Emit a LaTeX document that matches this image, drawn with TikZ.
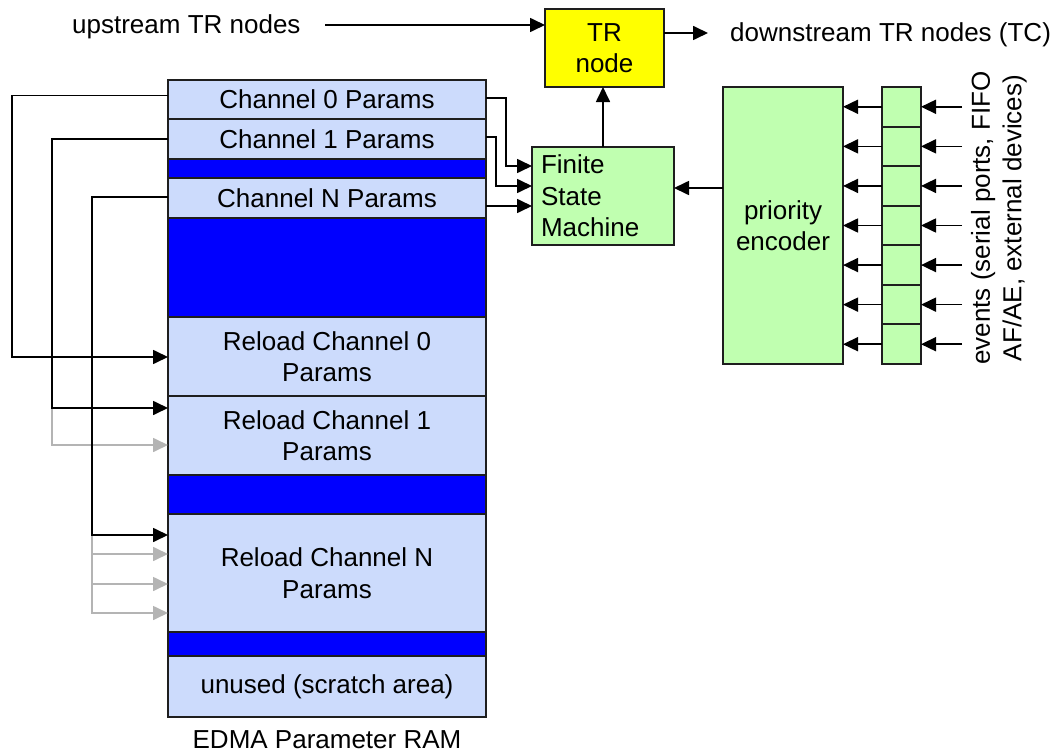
\documentclass[tikz,border=0pt]{standalone}
\usepackage{fontspec}
\setmainfont{Liberation Sans}
\usetikzlibrary{arrows.meta,calc}
\definecolor{memblue}{RGB}{204,219,252}
\definecolor{gapblue}{RGB}{0,0,255}
\definecolor{lgreen}{RGB}{192,255,176}
\definecolor{yel}{RGB}{255,255,0}
\definecolor{edge}{RGB}{30,30,30}
\definecolor{garrow}{RGB}{180,180,180}
\begin{document}
\begin{tikzpicture}[x=1pt,y=-1pt,
  txt/.style={font=\fontsize{26}{31.5}\selectfont, inner sep=0pt},
  mem/.style={txt, draw=edge, fill=memblue, line width=1.9pt, minimum width=318pt, align=center, outer sep=0pt},
  gap/.style={draw=edge, fill=gapblue, line width=1.9pt, minimum width=318pt, inner sep=0pt, outer sep=0pt},
  box/.style={txt, draw=edge, line width=1.9pt, align=center, outer sep=0pt},
  arr/.style={line width=1.7pt, draw=black, -{Triangle[length=15pt,width=14pt]}},
  garr/.style={line width=1.7pt, draw=garrow, -{Triangle[length=15pt,width=14pt]}}
]
\useasboundingbox (0,0) rectangle (1058,752);

% memory column
\node[mem, minimum height=39pt] (ch0) at (327,99.5) {Channel 0 Params};
\node[mem, minimum height=40pt] (ch1) at (327,139) {Channel 1 Params};
\node[gap, minimum height=19pt] (g1) at (327,168.5) {};
\node[mem, minimum height=40pt] (chN) at (327,198) {Channel N Params};
\node[gap, minimum height=99pt] (g2) at (327,267.5) {};
\node[mem, minimum height=79pt] (r0) at (327,356.5) {Reload Channel 0\\Params};
\node[mem, minimum height=79pt] (r1) at (327,435.5) {Reload Channel 1\\Params};
\node[gap, minimum height=39pt] (g3) at (327,494.5) {};
\node[mem, minimum height=118pt] (rN) at (327,573) {Reload Channel N\\Params};
\node[gap, minimum height=24pt] (g4) at (327,644) {};
\node[mem, minimum height=61pt] (un) at (327,686.5) {unused (scratch area)};
\node[txt, anchor=base] (edma) at (327,748) {EDMA Parameter RAM};

% TR node, FSM, encoder
\node[box, fill=yel, minimum width=119pt, minimum height=78pt] (tr) at (604.5,48) {TR\\node};
\node[box, fill=lgreen, minimum width=142pt, minimum height=98pt, text width=124pt, align=left] (fsm) at (603,196) {Finite\\State\\Machine};
\node[box, fill=lgreen, minimum width=120pt, minimum height=277pt] (enc) at (783,225.5) {priority\\encoder};

% texts
\node[txt, anchor=base west] (up) at (72,34) {upstream TR nodes};
\node[txt, anchor=base west] (down) at (730,42) {downstream TR nodes (TC)};
\node[txt, rotate=90, align=center] (ev) at (999,218) {events (serial ports, FIFO\\AF/AE, external devices)};

% upstream / downstream
\coordinate (upend) at (325,25);
\draw[arr] (upend) -- (upend -| tr.west);
\draw[arr] ([yshift=15pt]tr.east) -- ++(44,0) coordinate (downend);
\draw[arr] (fsm.north) -- (fsm.north |- tr.south);

% params to FSM
\draw[arr] ([yshift=1.5pt]ch0.east) -- ++(20,0) |- ([yshift=30pt]fsm.west);
\draw[arr] ([yshift=2pt]ch1.east) -- ++(10,0) |- ([yshift=10pt]fsm.west);
\draw[arr] ([yshift=-8pt]chN.east) -- ([yshift=-10pt]fsm.west);

% encoder to FSM
\draw[arr] ([yshift=37.5pt]enc.west) -- ([yshift=37.5pt]enc.west -| fsm.east);

% register cells
\foreach \i in {1,...,7}{
  \node[box, fill=lgreen, minimum width=39pt, minimum height=39.57pt] (c\i) at (901.5,{87+39.571*(\i-0.5)}) {};
  \draw[arr] (c\i.west) -- (c\i.west -| enc.east);
  \coordinate (in\i) at ([xshift=41pt]c\i.east);
  \draw[arr] (in\i) -- (c\i.east);
}

% reload links (left)
\coordinate (k0) at (12,357);
\coordinate (k1) at (52,408);
\coordinate (kN) at (92,535);
\draw[garr] (k1) |- ([yshift=-9.5pt]r1.west);
\draw[garr] (kN) |- ([yshift=19pt]rN.west);
\draw[garr] (kN) |- ([yshift=-11pt]rN.west);
\draw[garr] (kN) |- ([yshift=-40pt]rN.west);
\draw[arr] ([yshift=4pt]ch0.west) -| (k0) -- (k0 -| r0.west);
\draw[arr] (ch1.west) -| (k1) -- (k1 -| r1.west);
\draw[arr] ([yshift=1pt]chN.west) -| (kN) -- (kN -| rN.west);
\end{tikzpicture}
\end{document}
